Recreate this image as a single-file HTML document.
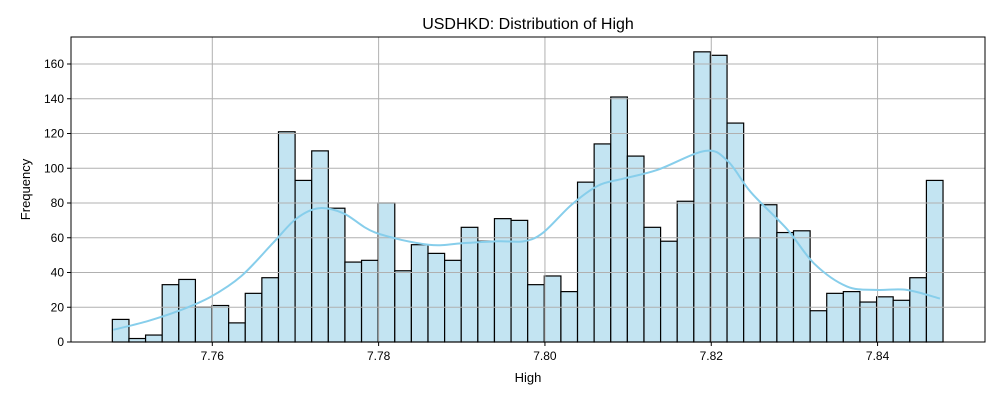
<!DOCTYPE html>
<html><head><meta charset="utf-8"><style>
body{margin:0;background:#fff;}
svg{font-family:"Liberation Sans","DejaVu Sans",sans-serif;}
</style></head><body>
<svg id="chart" width="1000" height="400" viewBox="0 0 1000 400"></svg>
<script>
const counts=[13,2,4,33,36,20,21,11,28,37,121,93,110,77,46,47,80,41,56,51,47,66,58,71,70,33,38,29,92,114,141,107,66,58,81,167,165,126,60,79,63,64,18,28,29,23,26,24,37,93];
const binStart=7.74798, binEnd=7.84787;
const kdeX=[7.7481,7.7522,7.7560,7.7598,7.7635,7.7673,7.7701,7.7728,7.7758,7.7796,7.7860,7.7904,7.7944,7.7975,7.7998,7.8032,7.8064,7.8094,7.8135,7.8193,7.8220,7.8248,7.8291,7.8324,7.8363,7.8399,7.8435,7.8475];
const kdeY=[7,12,18,26,38,57,71,77,74,63,56,57,58,58,63,79,90,94,99,110,104,86,65,45,32,30,30,25];
const xTicks=[7.76,7.78,7.80,7.82,7.84];
const yTicks=[0,20,40,60,80,100,120,140,160];
const L=71,R=985,T=37,B=342;
const X=v=>212.3+(v-7.76)*8316;
const Y=v=>B-v*1.7375;
const svg=document.getElementById('chart');
const NS='http://www.w3.org/2000/svg';
function mk(t,a,p){const e=document.createElementNS(NS,t);for(const k in a)e.setAttribute(k,a[k]);(p||svg).appendChild(e);return e;}
const w=(binEnd-binStart)/counts.length;
counts.forEach((c,i)=>{
 const x0=X(binStart+i*w),x1=X(binStart+(i+1)*w);
 const r=mk('rect',{x:x0,y:Y(c),width:x1-x0,height:B-Y(c),fill:'#c3e4f2',stroke:'#000','stroke-width':1.2});
 
 
});
xTicks.forEach(t=>{
 const g=mk('line',{x1:X(t),x2:X(t),y1:T,y2:B,stroke:'#b0b0b0','stroke-width':1});
 
 mk('line',{x1:X(t),x2:X(t),y1:B,y2:B+4,stroke:'#000'});
 const tx=mk('text',{x:X(t),y:B+18,'text-anchor':'middle','font-size':12});tx.textContent=t.toFixed(2);
 
});
yTicks.forEach(t=>{
 const g=mk('line',{x1:L,x2:R,y1:Y(t),y2:Y(t),stroke:'#b0b0b0','stroke-width':1});
 
 mk('line',{x1:L-4,x2:L,y1:Y(t),y2:Y(t),stroke:'#000'});
 const tx=mk('text',{x:L-7,y:Y(t)+4,'text-anchor':'end','font-size':12});tx.textContent=t;
 
});
const pts=kdeX.map((x,i)=>[X(x),Y(kdeY[i])]);
let d='M'+pts[0][0]+','+pts[0][1];
for(let i=0;i<pts.length-1;i++){
 const p0=pts[Math.max(0,i-1)],p1=pts[i],p2=pts[i+1],p3=pts[Math.min(pts.length-1,i+2)];
 d+=` C${p1[0]+(p2[0]-p0[0])/6},${p1[1]+(p2[1]-p0[1])/6} ${p2[0]-(p3[0]-p1[0])/6},${p2[1]-(p3[1]-p1[1])/6} ${p2[0]},${p2[1]}`;
}
const kde=mk('path',{d:d,fill:'none',stroke:'#87ceeb','stroke-width':2});

const fr=mk('rect',{x:L,y:T,width:R-L,height:B-T,fill:'none',stroke:'#000','stroke-width':1});

const ti=mk('text',{x:(L+R)/2,y:29,'text-anchor':'middle','font-size':16});ti.textContent='USDHKD: Distribution of High';

const xl=mk('text',{x:(L+R)/2,y:382,'text-anchor':'middle','font-size':13});xl.textContent='High';

const yl=mk('text',{x:26,y:(T+B)/2,'text-anchor':'middle','font-size':13,transform:`rotate(-90 26 ${(T+B)/2}) translate(0 4)`});yl.textContent='Frequency';

</script>
</body></html>
